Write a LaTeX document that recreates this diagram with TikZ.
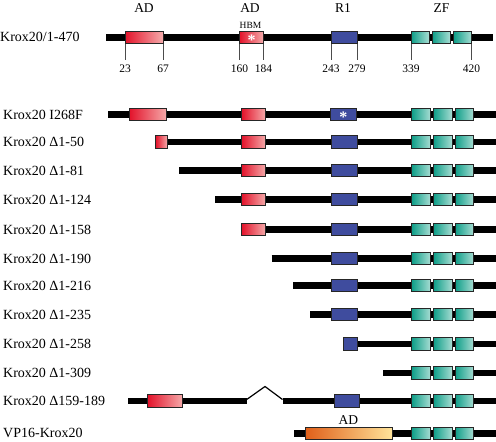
\documentclass[tikz,border=0pt]{standalone}
\usepackage{fontspec}
\setmainfont{Liberation Serif}
\definecolor{adL}{HTML}{E3132B}
\definecolor{adR}{HTML}{F5AAAA}
\definecolor{rone}{HTML}{3F4C9E}
\definecolor{zfL}{HTML}{0E9E88}
\definecolor{zfR}{HTML}{A6DCD2}
\definecolor{vpL}{HTML}{E0601A}
\definecolor{vpR}{HTML}{FFE49A}
\newcommand{\dom}[5]{\node[#2, minimum width={#4-#3}] (#1) at (#3,#5) {};}
\newcommand{\zfs}[2]{%
  \dom{#1z1}{zfbox}{411.7}{430.3}{#2}
  \dom{#1z2}{zfbox}{433.3}{452}{#2}
  \dom{#1z3}{zfbox}{455}{473.7}{#2}}
\begin{document}
\begin{tikzpicture}[x=1pt,y=-1pt,
  bar/.style={line width=6.6pt, black},
  dom/.style={draw=black!85, line width=0.9pt, minimum height=12.6pt, inner sep=0pt, outer sep=0pt, anchor=west},
  adbox/.style={dom, left color=adL, right color=adR},
  r1box/.style={dom, fill=rone},
  zfbox/.style={dom, left color=zfL, right color=zfR},
  vpbox/.style={dom, left color=vpL, right color=vpR, minimum height=11.6pt},
  rowlab/.style={anchor=base west, inner sep=0pt, font=\fontsize{14}{16}\selectfont},
  head/.style={anchor=base, inner sep=0pt, font=\fontsize{13.5}{15}\selectfont},
  num/.style={anchor=base, inner sep=0pt, font=\fontsize{11.5}{13}\selectfont},
  tick/.style={line width=0.7pt, black!70},
  star/.style={inner sep=0pt, text=white, font=\fontsize{16}{16}\selectfont\bfseries, yshift=-3pt},
  wedge/.style={line width=1.2pt, black}
]
\useasboundingbox[fill=white] (0,0) rectangle (496,442);

% ---------- header ----------
\node[head] (hAD1) at (144,12) {AD};
\node[head] (hAD2) at (250,12) {AD};
\node[head] (hR1) at (343,12) {R1};
\node[head] (hZF) at (441.5,12) {ZF};
\node[anchor=base, inner sep=0pt, font=\fontsize{9.5}{11}\selectfont] (hHBM) at (250.5,28.3) {HBM};

% ---------- full length ----------
\node[rowlab] (l0) at (0,41.9) {Krox20/1-470};
\coordinate (a0) at (106,37.5); \coordinate (b0) at (493,37.5);
\draw[bar] (a0) -- (b0);
\dom{ad1}{adbox}{125}{163}{37.5}
\dom{hbm}{adbox}{239.5}{263.5}{37.5}
\dom{r1}{r1box}{331}{357}{37.5}
\dom{z1}{zfbox}{411}{429}{37.5}
\dom{z2}{zfbox}{432}{450}{37.5}
\dom{z3}{zfbox}{453.5}{471.5}{37.5}
\node[star] at (hbm.center) {*};
\coordinate (tk) at (0,59.5);
\foreach \n/\a/\t in {ad1/south west/23, ad1/south east/67, hbm/south west/160, hbm/south east/184, r1/south west/243, r1/south east/279, z1/south west/339, z3/south east/420}{
  \draw[tick] (\n.\a) -- (\n.\a |- tk);
  \node[num] at ([yshift=-13.2pt]\n.\a |- tk) {\t};
}

% ---------- I268F ----------
\node[rowlab] (l1) at (3,119.2) {Krox20 I268F};
\coordinate (a1) at (108,114.5); \coordinate (b1) at (496,114.5);
\draw[bar] (a1) -- (b1);
\dom{bad1}{adbox}{129.3}{166.7}{114.5}
\dom{bad2}{adbox}{241.7}{265.7}{114.5}
\dom{br1}{r1box}{330}{356.7}{114.5}
\node[star] at (br1.center) {*};
\zfs{b}{114.5}

% ---------- D1-50 ----------
\node[rowlab] (l2) at (3,146.7) {Krox20 Δ1-50};
\coordinate (a2) at (160,142); \coordinate (b2) at (496,142);
\draw[bar] (a2) -- (b2);
\dom{cad1}{adbox}{155.7}{167.3}{142}
\dom{cad2}{adbox}{241.7}{265.7}{142}
\dom{cr1}{r1box}{331.5}{357.3}{142}
\zfs{c}{142}

% ---------- D1-81 ----------
\node[rowlab] (l3) at (3,175.2) {Krox20 Δ1-81};
\coordinate (a3) at (179.3,170.5); \coordinate (b3) at (496,170.5);
\draw[bar] (a3) -- (b3);
\dom{dad2}{adbox}{241.7}{265.7}{170.5}
\dom{dr1}{r1box}{331.5}{357.3}{170.5}
\zfs{d}{170.5}

% ---------- D1-124 ----------
\node[rowlab] (l4) at (3,204.2) {Krox20 Δ1-124};
\coordinate (a4) at (215,199.5); \coordinate (b4) at (496,199.5);
\draw[bar] (a4) -- (b4);
\dom{ead2}{adbox}{241.7}{265.7}{199.5}
\dom{er1}{r1box}{331.5}{357.3}{199.5}
\zfs{e}{199.5}

% ---------- D1-158 ----------
\node[rowlab] (l5) at (3,234.2) {Krox20 Δ1-158};
\coordinate (a5) at (245,229.5); \coordinate (b5) at (496,229.5);
\draw[bar] (a5) -- (b5);
\dom{fad2}{adbox}{241.7}{265.7}{229.5}
\dom{fr1}{r1box}{331.5}{357.3}{229.5}
\zfs{f}{229.5}

% ---------- D1-190 ----------
\node[rowlab] (l6) at (3,263.2) {Krox20 Δ1-190};
\coordinate (a6) at (271.7,258.5); \coordinate (b6) at (496,258.5);
\draw[bar] (a6) -- (b6);
\dom{gr1}{r1box}{331.5}{357.3}{258.5}
\zfs{g}{258.5}

% ---------- D1-216 ----------
\node[rowlab] (l7) at (3,290.2) {Krox20 Δ1-216};
\coordinate (a7) at (293.3,285.5); \coordinate (b7) at (496,285.5);
\draw[bar] (a7) -- (b7);
\dom{hr1}{r1box}{331.5}{357.3}{285.5}
\zfs{h}{285.5}

% ---------- D1-235 ----------
\node[rowlab] (l8) at (3,319.2) {Krox20 Δ1-235};
\coordinate (a8) at (310,314.5); \coordinate (b8) at (496,314.5);
\draw[bar] (a8) -- (b8);
\dom{ir1}{r1box}{331.5}{357.3}{314.5}
\zfs{i}{314.5}

% ---------- D1-258 ----------
\node[rowlab] (l9) at (3,348.7) {Krox20 Δ1-258};
\coordinate (a9) at (350,344); \coordinate (b9) at (496,344);
\draw[bar] (a9) -- (b9);
\dom{jr1}{r1box}{343.3}{357.3}{344}
\zfs{j}{344}

% ---------- D1-309 ----------
\node[rowlab] (l10) at (3,377.7) {Krox20 Δ1-309};
\coordinate (a10) at (383.3,373); \coordinate (b10) at (496,373);
\draw[bar] (a10) -- (b10);
\zfs{k}{373}

% ---------- D159-189 ----------
\node[rowlab] (l11) at (3,405.7) {Krox20 Δ159-189};
\coordinate (a11) at (128.3,401); \coordinate (m11) at (246.7,401);
\coordinate (n11) at (282.5,401); \coordinate (b11) at (496,401);
\coordinate (w1) at (246.7,399.5); \coordinate (wp) at (265,386.5); \coordinate (w2) at (282.5,399.5);
\draw[bar] (a11) -- (m11);
\draw[bar] (n11) -- (b11);
\draw[wedge] (w1) -- (wp) -- (w2);
\dom{lad1}{adbox}{147.7}{182.7}{401}
\dom{lr1}{r1box}{334.3}{359}{401}
\zfs{l}{401}

% ---------- VP16 ----------
\node[rowlab] (l12) at (3,437.7) {VP16-Krox20};
\coordinate (a12) at (294.3,433.5); \coordinate (b12) at (496,433.5);
\draw[bar] (a12) -- (b12);
\dom{mvp}{vpbox}{305.7}{392.3}{433.5}
\node[head] (mAD) at (348.3,424.2) {AD};
\zfs{m}{433.5}
\end{tikzpicture}
\end{document}
